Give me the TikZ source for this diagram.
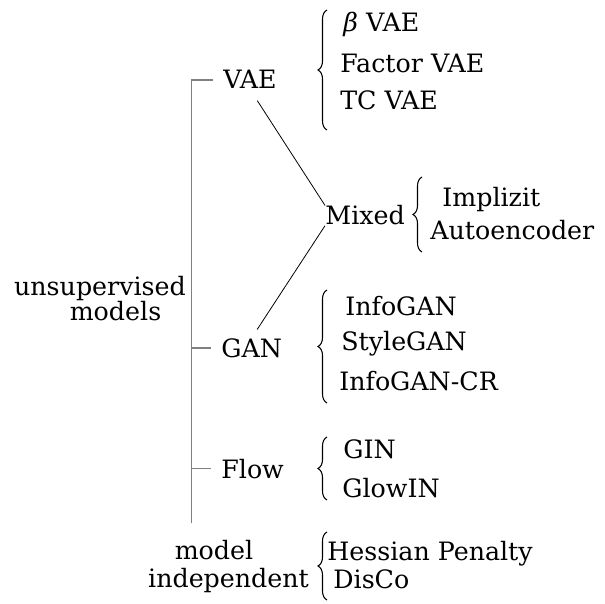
\documentclass[tikz,border=0pt]{standalone}
\usepackage{fontspec}
\setmainfont{DejaVu Serif}
\usetikzlibrary{decorations.pathreplacing}
\tikzstyle{word} = [inner sep=0pt, anchor=base west, font=\fontsize{14.4}{18}\selectfont]
\tikzstyle{group} = [inner sep=0pt, align=center, font=\fontsize{14.4}{18}\selectfont]
\tikzstyle{trunk} = [draw=black!50, line width=0.85pt]
\tikzstyle{link} = [line width=0.45pt]
\tikzstyle{curly} = [line width=0.6pt, decorate, decoration={brace, amplitude=0.18cm}]

\begin{document}
\begin{tikzpicture}
	\useasboundingbox (0,0) rectangle (12.1,12.06);
	% root categories
	\node (unsup) [group] at (2.0,6.08) {unsupervised\\[-3.8pt]\hspace*{0.62cm}models};
	\node (indep) [group] at (4.57,0.73) {model\hspace*{0.58cm}\\[-2.1pt]independent};
	% model families
	\node (VAE) [word] at (4.46,10.28) {VAE};
	\node (Mixed) [word] at (6.50,7.56) {Mixed};
	\node (GAN) [word] at (4.42,4.92) {GAN};
	\node (Flow) [word] at (4.42,2.50) {Flow};
	% methods
	\node (beta) [word] at (6.86,11.42) {{\itshape β} VAE};
	\node (factor) [word] at (6.80,10.60) {Factor VAE};
	\node (tcvae) [word] at (6.80,9.86) {TC VAE};
	\node (implizit) [word] at (8.84,7.92) {Implizit};
	\node (autoenc) [word] at (8.60,7.26) {Autoencoder};
	\node (infogan) [word] at (6.90,5.76) {InfoGAN};
	\node (stylegan) [word] at (6.82,5.06) {StyleGAN};
	\node (infogancr) [word] at (6.78,4.26) {InfoGAN-CR};
	\node (gin) [word] at (6.86,2.90) {GIN};
	\node (glowin) [word] at (6.84,2.12) {GlowIN};
	\node (hessian) [word] at (6.54,0.86) {Hessian Penalty};
	\node (disco) [word] at (6.66,0.30) {DisCo};
	% tree
	\coordinate (root) at (3.83,1.6);
	\draw [trunk] (root) |- ([xshift=-0.2cm]VAE.west);
	\draw [trunk] (root |- GAN.west) -- ([xshift=-0.2cm]GAN.west);
	\draw [trunk] (root |- Flow.west) -- ([xshift=-0.2cm]Flow.west);
	\draw [link, shorten <=0.27cm] (VAE.south) -- (Mixed.north west);
	\draw [link, shorten >=0.2cm] (Mixed.south west) -- (GAN.north);
	% braces
	\draw [curly] (6.54,9.46) -- (6.54,11.86);
	\draw [curly] (8.44,7.02) -- (8.44,8.52);
	\draw [curly] (6.54,4.00) -- (6.54,6.26);
	\draw [curly] (6.54,2.06) -- (6.54,3.32);
	\draw [curly] (6.54,0.06) -- (6.54,1.42);
\end{tikzpicture}
\end{document}
